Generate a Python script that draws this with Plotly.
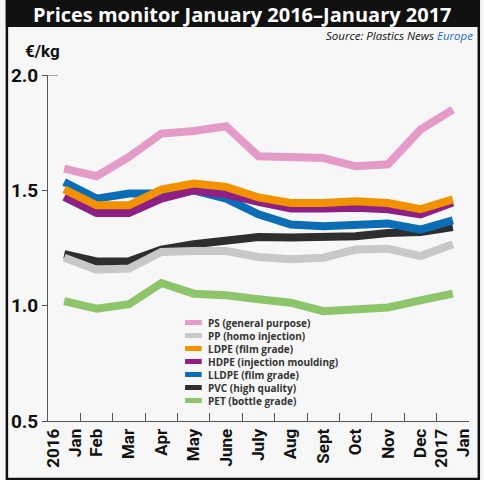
import plotly.graph_objects as go

# monthly prices, Jan 2016 .. Jan 2017 (EUR/kg)
months = ["2016<br>Jan", "Feb", "Mar", "Apr", "May", "June", "July",
          "Aug", "Sept", "Oct", "Nov", "Dec", "2017<br>Jan"]

ps = [1.594, 1.561, 1.645, 1.746, 1.757, 1.778, 1.648, 1.648, 1.640, 1.604, 1.613, 1.763, 1.850]
pp = [1.208, 1.156, 1.161, 1.233, 1.237, 1.237, 1.211, 1.201, 1.208, 1.243, 1.247, 1.215, 1.266]
ldpe = [1.504, 1.435, 1.435, 1.503, 1.529, 1.515, 1.469, 1.445, 1.445, 1.453, 1.445, 1.418, 1.461]
hdpe = [1.471, 1.402, 1.402, 1.464, 1.500, 1.483, 1.450, 1.421, 1.421, 1.425, 1.418, 1.396, 1.447]
lldpe = [1.536, 1.464, 1.486, 1.486, 1.500, 1.464, 1.396, 1.352, 1.344, 1.352, 1.356, 1.330, 1.370]
pvc = [1.223, 1.192, 1.192, 1.243, 1.266, 1.280, 1.298, 1.295, 1.295, 1.301, 1.315, 1.319, 1.341]
pet = [1.020, 0.987, 1.006, 1.098, 1.052, 1.045, 1.028, 1.013, 0.976, 0.983, 0.992, 1.023, 1.052]

names = ["PS (general purpose)", "PP (homo injection)", "LDPE (film grade)",
         "HDPE (injection moulding)", "LLDPE (film grade)", "PVC (high quality)",
         "PET (bottle grade)"]
series = [ps, pp, ldpe, hdpe, lldpe, pvc, pet]
colors = ["#e49bc8", "#c8c8c8", "#f29200", "#8e1f85", "#0b6db6", "#2e2e2e", "#8dc56b"]

yticks = [0.5, 1.0, 1.5, 2.0]

W, H = 484, 480
ML, MR, MT, MB = 43, 11, 75, 59
PW, PH = W - ML - MR, H - MT - MB
TICKFONT = "Roboto, Open Sans"


def px(x):
    return (x - ML) / PW


def py(y):
    return (H - MB - y) / PH


fig = go.Figure()

# drawing order: bottom to top
for i in [6, 5, 1, 4, 3, 2, 0]:
    fig.add_trace(go.Scatter(
        x=months, y=series[i], mode="lines", name=names[i],
        line=dict(color=colors[i], width=8), showlegend=False,
        hoverinfo="skip",
    ))

shapes = []
annotations = []

# frame and title bar
shapes.append(dict(type="rect", xref="paper", yref="paper",
                   x0=px(0), x1=px(W), y0=py(0), y1=py(27),
                   fillcolor="#111111", line=dict(width=0), layer="below"))
shapes.append(dict(type="rect", xref="paper", yref="paper",
                   x0=px(1), x1=px(W - 1), y0=py(1), y1=py(H - 1),
                   line=dict(color="#111111", width=2.5)))
# little inward tick at the top of the y axis
shapes.append(dict(type="line", xref="paper", yref="y",
                   x0=0, x1=px(ML + 10), y0=2.0, y1=2.0,
                   line=dict(color="#555555", width=1)))

annotations.append(dict(xref="paper", yref="paper", x=px(W / 2), y=py(14),
                        text="<b>Prices monitor January 2016–January 2017</b>",
                        showarrow=False, xanchor="center", yanchor="middle",
                        font=dict(family="Open Sans", size=20, color="white")))
annotations.append(dict(xref="paper", yref="paper", x=px(479), y=py(36),
                        text="<i>Source: Plastics News <span style='color:#1f6fb8'>Europe</span></i>",
                        showarrow=False, xanchor="right", yanchor="middle",
                        font=dict(family="Open Sans", size=11.5, color="#111111")))
annotations.append(dict(xref="paper", yref="paper", x=px(17), y=py(51),
                        text="<b>€/kg</b>", showarrow=False,
                        xanchor="left", yanchor="middle",
                        font=dict(family=TICKFONT, size=17, color="#111111")))

# legend block, drawn by hand for the tight row spacing
for i, name in enumerate(names):
    yy = 322.5 + 13 * i
    shapes.append(dict(type="rect", xref="paper", yref="paper",
                       x0=px(183), x1=px(200), y0=py(yy + 2.5), y1=py(yy - 2.5),
                       fillcolor=colors[i], line=dict(width=0)))
    annotations.append(dict(xref="paper", yref="paper", x=px(204), y=py(yy),
                            text="<b>" + name + "</b>", showarrow=False,
                            xanchor="left", yanchor="middle",
                            font=dict(family="Open Sans", size=10, color="#333333")))

fig.update_layout(
    width=W, height=H,
    margin=dict(l=ML, r=MR, t=MT, b=MB),
    paper_bgcolor="#f7f7f7",
    plot_bgcolor="#f7f7f7",
    shapes=shapes,
    annotations=annotations,
    showlegend=False,
    hovermode=False,
    xaxis=dict(
        type="category", range=[-0.5, 12.5], tickson="boundaries",
        ticks="inside", ticklen=8, tickcolor="#555555",
        showline=True, linecolor="#555555", linewidth=1,
        showgrid=False, zeroline=False, tickangle=-90,
        tickfont=dict(family=TICKFONT, size=17, color="#111111"),
        tickvals=months, ticktext=["<b>" + m.replace("<br>", "</b><br><b>") + "</b>" for m in months],
    ),
    yaxis=dict(
        range=[0.5, 2.0], tickvals=yticks,
        ticktext=["<b>%.1f</b>" % v for v in yticks],
        ticks="outside", ticklen=5, tickcolor="#555555",
        showline=True, linecolor="#555555", linewidth=1,
        showgrid=False, zeroline=False,
        tickfont=dict(family=TICKFONT, size=19, color="#111111"),
    ),
)

fig.write_html("out.html", config={"displayModeBar": False},
               post_script="document.body.style.margin='0';")
